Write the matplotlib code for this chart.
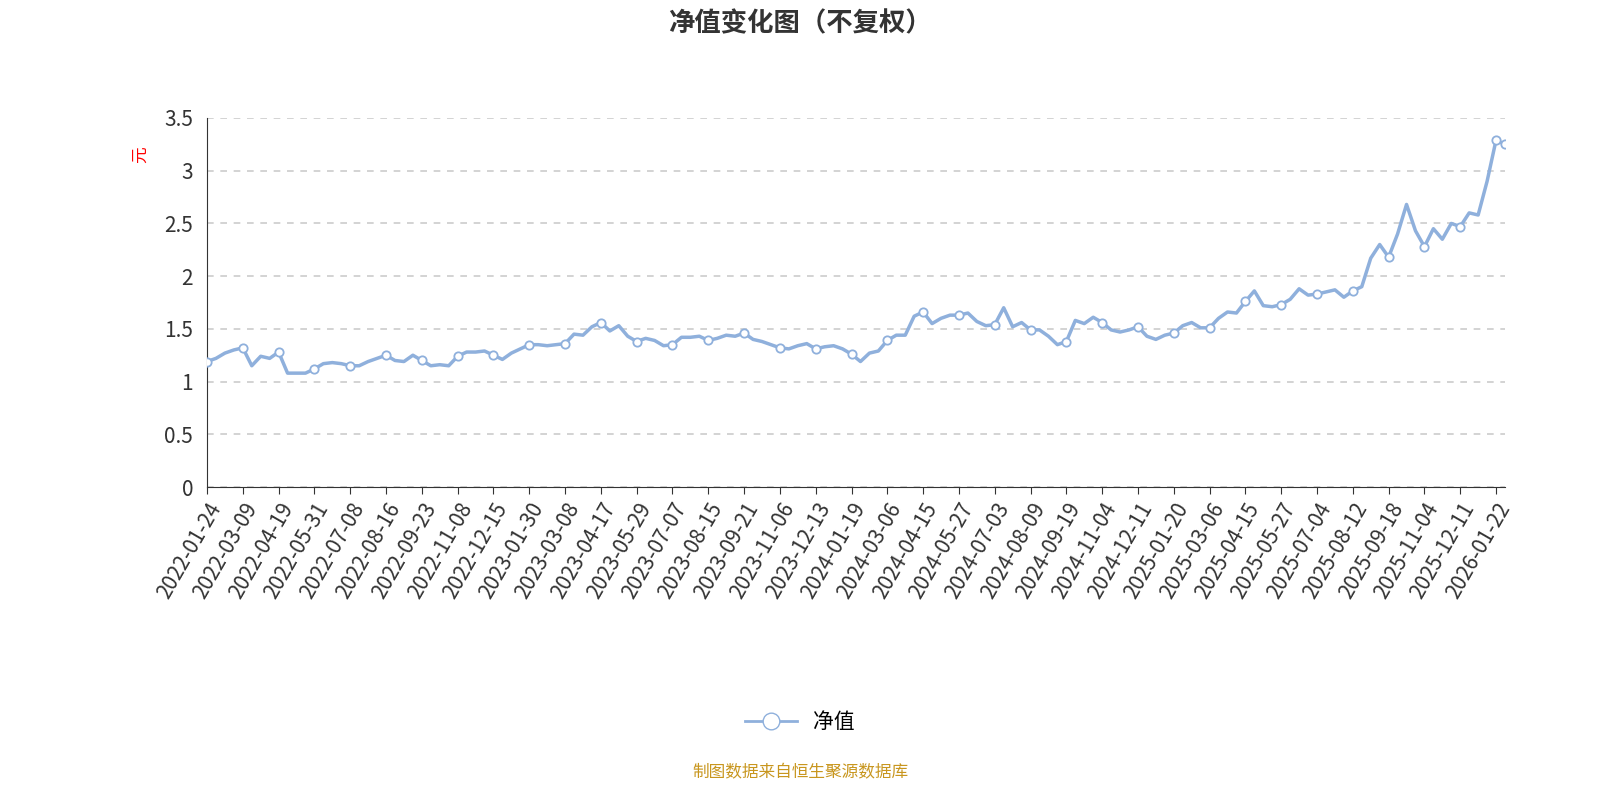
import matplotlib
matplotlib.use("Agg")
import matplotlib.pyplot as plt
from matplotlib.lines import Line2D

plt.rcParams['font.family'] = ['Noto Sans CJK SC', 'DejaVu Sans']

tick_labels = ["2022-01-24","2022-03-09","2022-04-19","2022-05-31","2022-07-08","2022-08-16",
 "2022-09-23","2022-11-08","2022-12-15","2023-01-30","2023-03-08","2023-04-17","2023-05-29",
 "2023-07-07","2023-08-15","2023-09-21","2023-11-06","2023-12-13","2024-01-19","2024-03-06",
 "2024-04-15","2024-05-27","2024-07-03","2024-08-09","2024-09-19","2024-11-04","2024-12-11",
 "2025-01-20","2025-03-06","2025-04-15","2025-05-27","2025-07-04","2025-08-12","2025-09-18",
 "2025-11-04","2025-12-11","2026-01-22"]

nav = [1.19,
 1.22,1.27,1.30,1.32,
 1.15,1.24,1.22,1.28,
 1.08,1.08,1.08,1.12,
 1.17,1.18,1.17,1.15,
 1.15,1.19,1.22,1.25,
 1.20,1.19,1.25,1.20,
 1.15,1.16,1.15,1.24,
 1.28,1.28,1.29,1.25,
 1.21,1.27,1.31,1.35,
 1.35,1.34,1.35,1.36,
 1.45,1.44,1.52,1.56,
 1.48,1.53,1.43,1.38,
 1.41,1.39,1.34,1.35,
 1.42,1.42,1.43,1.39,
 1.41,1.44,1.43,1.46,
 1.40,1.38,1.35,1.32,
 1.31,1.34,1.36,1.31,
 1.33,1.34,1.31,1.26,
 1.19,1.27,1.29,1.39,
 1.44,1.44,1.62,1.66,
 1.55,1.60,1.63,1.63,
 1.65,1.57,1.53,1.54,
 1.70,1.52,1.56,1.49,
 1.49,1.43,1.35,1.38,
 1.58,1.55,1.61,1.56,
 1.49,1.47,1.49,1.52,
 1.43,1.40,1.44,1.46,
 1.53,1.56,1.51,1.51,
 1.60,1.66,1.65,1.76,
 1.86,1.72,1.71,1.73,
 1.78,1.88,1.82,1.83,
 1.85,1.87,1.80,1.86,
 1.90,2.17,2.30,2.18,
 2.40,2.68,2.43,2.28,
 2.45,2.35,2.50,2.47,
 2.60,2.58,2.90,3.29,
 3.25]

fig = plt.figure(figsize=(16, 8), dpi=100)
ax = fig.add_axes([207/1600, 1-487/800, (1505-207)/1600, (487-118)/800])
color = '#8fb0dc'
x = list(range(len(nav)))
ax.plot(x, nav, color=color, lw=2.5, zorder=3)
mk = list(range(0, len(nav), 4)) + [len(nav)-1]
ax.plot(mk, [nav[i] for i in mk], 'o', ms=6, mfc='white', mec=color, mew=1.3, zorder=4, ls='none')

ax.set_xlim(0, len(nav)-1)
ax.set_ylim(0, 3.5)
ax.set_yticks([0,0.5,1,1.5,2,2.5,3,3.5])
ax.set_yticklabels(['0','0.5','1','1.5','2','2.5','3','3.5'])
ax.set_xticks(range(0, 4*len(tick_labels), 4))
ax.set_xticklabels(tick_labels, rotation=60, ha='right', rotation_mode='anchor')
ax.tick_params(axis='both', labelsize=15, colors='#333333')
ax.tick_params(axis='y', length=0, pad=10)
ax.tick_params(axis='x', length=5, color='#333333')
ax.grid(axis='y', ls=(0,(4,4)), color='#cccccc', lw=1.2)
for s in ['top','right']:
    ax.spines[s].set_visible(False)
ax.spines['left'].set_color('#333333')
ax.spines['bottom'].set_color('#333333')
ax.set_ylabel('元', color='red', fontsize=12, labelpad=30)
ax.yaxis.set_label_coords(-0.045, 0.9)

fig.text(0.5, 0.97, '净值变化图（不复权）', ha='center', va='center', fontsize=19, fontweight='bold', color='#333333')
h = Line2D([], [], color=color, lw=2, marker='o', ms=12, mfc='white', mec=color)
fig.legend([h], ['净值'], loc='center', bbox_to_anchor=(0.5, 1-722/800), frameon=False, fontsize=15, handlelength=2.5)
fig.text(0.5, 1-773/800, '制图数据来自恒生聚源数据库', ha='center', va='center', fontsize=12, color='#c8961e')
fig.savefig('out.png')
